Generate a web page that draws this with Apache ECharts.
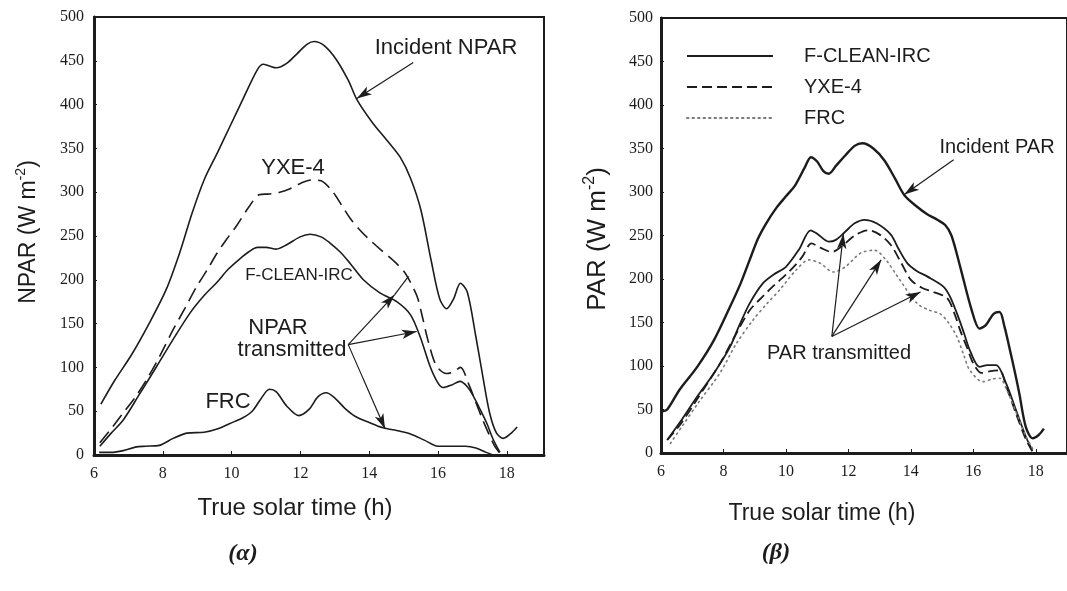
<!DOCTYPE html>
<html>
<head>
<meta charset="utf-8">
<script src="https://cdn.jsdelivr.net/npm/echarts@6/dist/echarts.min.js"></script>
<style>
  html, body { margin: 0; padding: 0; background: #fff; }
  #chart { width: 1067px; height: 591px; }
</style>
</head>
<body>
<div id="chart"></div>
<script>
// ---- Panel (α): NPAR, W m-2, against true solar time (h) ----
const npIncident = [[6.2,58],[6.6,85],[7.1,115],[7.6,150],[8.1,189],[8.5,232],[8.85,276],[9.2,314],[9.6,346],[9.95,375],[10.35,408],[10.75,440],[10.92,446],[11.1,444],[11.3,442],[11.6,447],[11.9,458],[12.2,469],[12.4,472],[12.7,467],[13.05,451],[13.4,427],[13.65,405],[14.1,379],[14.5,360],[14.9,340],[15.2,316],[15.5,280],[15.8,222],[16.05,178],[16.25,167],[16.45,178],[16.65,196],[16.85,186],[17.1,135],[17.3,90],[17.5,48],[17.7,25],[17.9,19],[18.1,24],[18.3,32]];
const npYXE = [[6.17,14],[6.5,30],[6.85,48],[7.2,66],[7.53,86],[7.9,112],[8.3,143],[8.65,168],[8.98,192],[9.3,212],[9.57,230],[9.85,246],[10.15,262],[10.5,283],[10.8,297],[11.1,298],[11.4,300],[11.7,304],[12.0,310],[12.3,314],[12.6,313],[12.95,300],[13.2,285],[13.45,270],[13.7,258],[13.95,248],[14.4,232],[14.7,222],[15.0,210],[15.2,197],[15.4,180],[15.55,157],[15.7,132],[15.95,102],[16.25,93],[16.45,95],[16.65,100],[16.9,80],[17.1,60],[17.3,40],[17.5,22],[17.65,10],[17.8,2]];
const npFClean = [[6.17,10],[6.5,25],[6.85,40],[7.3,68],[7.82,101],[8.3,132],[8.79,162],[9.2,182],[9.57,197],[9.9,212],[10.24,224],[10.5,232],[10.75,237],[11.0,237],[11.3,235],[11.6,240],[11.99,249],[12.28,252],[12.6,249],[12.86,242],[13.15,232],[13.44,219],[13.83,200],[14.31,185],[14.8,175],[15.2,160],[15.48,135],[15.77,101],[16.0,82],[16.15,77],[16.4,80],[16.64,84],[16.85,78],[17.03,67],[17.25,50],[17.42,36],[17.6,18],[17.8,3]];
const npFRC = [[6.15,3],[6.5,3],[6.85,5],[7.2,9],[7.5,10],[7.9,11],[8.3,19],[8.7,25],[9.2,26],[9.6,30],[9.95,36],[10.3,42],[10.6,50],[10.85,64],[11.1,75],[11.3,72],[11.6,56],[11.95,45],[12.25,52],[12.5,66],[12.75,71],[13.0,65],[13.3,53],[13.6,44],[14.0,37],[14.4,31],[14.8,28],[15.2,24],[15.6,17],[16.0,10],[16.4,10],[16.8,10],[17.1,8],[17.4,3],[17.6,0]];

// ---- Panel (β): PAR, W m-2, against true solar time (h) ----
const parIncident = [[6.05,48],[6.2,50],[6.6,73],[7.16,99],[7.7,130],[8.21,168],[8.55,195],[8.84,222],[9.1,246],[9.37,264],[9.7,282],[10.0,295],[10.3,308],[10.6,328],[10.8,340],[11.0,335],[11.2,324],[11.37,321],[11.6,330],[11.9,342],[12.2,353],[12.45,356],[12.8,350],[13.16,336],[13.5,315],[13.8,296],[14.2,283],[14.5,275],[14.85,268],[15.1,262],[15.3,250],[15.58,214],[15.95,164],[16.2,143],[16.4,147],[16.65,160],[16.84,162],[17.0,145],[17.15,122],[17.3,98],[17.47,69],[17.68,30],[17.9,17],[18.1,21],[18.26,28]];
const parFClean = [[6.2,15],[6.6,35],[7.16,65],[7.7,92],[8.21,122],[8.5,146],[8.84,172],[9.26,195],[9.6,205],[10.0,214],[10.42,234],[10.79,256],[11.0,252],[11.37,243],[11.6,245],[11.89,254],[12.2,264],[12.52,268],[12.9,264],[13.36,251],[13.6,235],[13.89,218],[14.2,209],[14.52,203],[15.05,191],[15.25,180],[15.47,161],[15.7,138],[15.89,118],[16.2,99],[16.45,101],[16.73,101],[17.05,80],[17.37,49],[17.68,19],[17.89,3]];
const parYXE = [[6.2,15],[6.6,32],[7.16,62],[7.89,103],[8.3,130],[8.84,164],[9.26,180],[9.6,192],[10.0,205],[10.3,216],[10.53,226],[10.82,241],[11.1,236],[11.47,231],[11.8,238],[12.2,250],[12.63,256],[13.0,251],[13.36,239],[13.7,218],[14.0,199],[14.35,190],[14.73,185],[15.16,178],[15.4,160],[15.58,141],[15.8,121],[16.0,103],[16.26,92],[16.55,94],[16.84,95],[17.05,77],[17.37,45],[17.68,16],[17.89,2]];
const parFRC = [[6.3,11],[6.7,32],[7.2,58],[7.89,92],[8.4,125],[8.95,153],[9.4,172],[9.79,187],[10.32,210],[10.74,222],[11.1,218],[11.52,208],[11.9,214],[12.4,230],[12.84,233],[13.2,222],[13.57,203],[14.2,172],[14.6,164],[14.94,160],[15.2,150],[15.47,134],[15.7,112],[15.89,95],[16.31,82],[16.6,85],[16.84,86],[17.1,70],[17.47,38],[17.7,18],[17.95,2]];

// Axis ticks
const timeTicks = [6, 8, 10, 12, 14, 16, 18];
const fluxTicks = [0, 50, 100, 150, 200, 250, 300, 350, 400, 450, 500];

// Annotation arrows, in (hour, W m-2)
const npArrows = [
  [[15.28, 448], [13.64, 407]],
  [[13.39, 126], [14.74, 183]],
  [[13.39, 126], [15.38, 141]],
  [[13.39, 126], [14.46, 30]]
];
const npArrowTail = [[[14.74, 183], [15.14, 204]]];
const parArrows = [
  [[15.37, 337], [13.79, 297]],
  [[11.47, 134], [11.84, 252]],
  [[11.47, 134], [13.05, 222]],
  [[11.47, 134], [14.31, 185]]
];

const INK = '#1c1c1c';
const SANS = '"Liberation Sans", Arial, sans-serif';
const SERIF = '"Liberation Serif", "Times New Roman", serif';

function timeAxis(gridIndex, max) {
  return {
    type: 'value', gridIndex, min: 6, max, interval: 2,
    axisLine: { show: true, onZero: false, lineStyle: { color: INK, width: 3 } },
    axisTick: { show: true, inside: true, length: 4, lineStyle: { color: INK, width: 1 },
      customValues: timeTicks },
    axisLabel: { show: true, margin: 11, color: INK, fontFamily: SERIF, fontSize: 16,
      customValues: timeTicks,
      formatter: v => (timeTicks.indexOf(v) >= 0 ? String(v) : '') },
    splitLine: { show: false }
  };
}
function fluxAxis(gridIndex, margin) {
  return {
    type: 'value', gridIndex, min: 0, max: 500, interval: 50,
    axisLine: { show: true, onZero: false, lineStyle: { color: INK, width: 3 } },
    axisTick: { show: true, inside: true, length: 3, lineStyle: { color: INK, width: 1 } },
    axisLabel: { show: true, margin, color: INK, fontFamily: SERIF, fontSize: 16,
      formatter: v => (fluxTicks.indexOf(v) >= 0 ? String(v) : '') },
    splitLine: { show: false }
  };
}
function curve(name, data, axisIdx, lineStyle, extra) {
  return Object.assign({
    name, type: 'line', data, xAxisIndex: axisIdx, yAxisIndex: axisIdx,
    symbol: 'none', showSymbol: false, smooth: 0.3, silent: true,
    itemStyle: { color: INK },
    lineStyle: Object.assign({ color: INK, width: 1.6 }, lineStyle)
  }, extra || {});
}
function arrowLines(list, withHead) {
  return {
    silent: true, animation: false,
    symbol: withHead ? ['none', 'arrow'] : ['none', 'none'],
    symbolSize: [7, 15],
    lineStyle: { color: INK, width: 1.2, type: 'solid' },
    itemStyle: { color: INK },
    label: { show: false },
    emphasis: { disabled: true },
    data: list.map(seg => [{ coord: seg[0] }, { coord: seg[1] }])
  };
}
function txt(text, x, y, size, opts) {
  return Object.assign({
    type: 'text', x, y, silent: true,
    style: Object.assign({ text, fill: INK, font: size + 'px ' + SANS,
      align: 'center', verticalAlign: 'middle' }, (opts && opts.style) || {})
  }, (opts && opts.el) || {});
}
function fluxTitle(label, x, y, size) {
  return {
    type: 'text', x, y, rotation: Math.PI / 2, silent: true,
    style: {
      text: '{n|' + label + ' (W m}{s|-2}{n|)}',
      align: 'center', verticalAlign: 'middle', fill: INK,
      rich: {
        n: { fontSize: size, fontFamily: SANS, fill: INK, lineHeight: size + 6 },
        s: { fontSize: Math.round(size * 0.6), fontFamily: SANS, fill: INK,
             verticalAlign: 'top', lineHeight: Math.round(size * 0.6) + 2 }
      }
    }
  };
}

const chart = echarts.init(document.getElementById('chart'), null, { renderer: 'canvas' });

const option = {
  animation: false,
  backgroundColor: '#ffffff',
  grid: [
    { left: 94, top: 17, width: 450, height: 438, show: true, borderColor: INK, borderWidth: 2 },
    { left: 661, top: 18, width: 412, height: 435, show: true, borderColor: INK, borderWidth: 2 }
  ],
  xAxis: [timeAxis(0, 19.08), timeAxis(1, 19)],
  yAxis: [fluxAxis(0, 10), fluxAxis(1, 8)],
  legend: {
    data: ['F-CLEAN-IRC', 'YXE-4', 'FRC'],
    orient: 'vertical', left: 681, top: 41,
    itemWidth: 86, itemHeight: 14, itemGap: 11,
    selectedMode: false,
    itemStyle: { color: 'transparent', borderColor: 'transparent', borderWidth: 0, opacity: 0 },
    textStyle: { color: INK, fontFamily: SANS, fontSize: 20, padding: [0, 0, 0, 26] }
  },
  series: [
    curve('Incident NPAR', npIncident, 0, {}, { markLine: arrowLines(npArrows, true) }),
    curve('NPAR YXE-4', npYXE, 0, { type: [14, 7] }, { markLine: arrowLines(npArrowTail, false) }),
    curve('NPAR F-CLEAN-IRC', npFClean, 0, {}),
    curve('NPAR FRC', npFRC, 0, {}),
    curve('Incident PAR', parIncident, 1, { width: 2.4 }, { markLine: arrowLines(parArrows, true) }),
    curve('F-CLEAN-IRC', parFClean, 1, { width: 1.8 }),
    curve('YXE-4', parYXE, 1, { width: 1.8, type: [10, 5] }),
    curve('FRC', parFRC, 1, { width: 1.6, color: '#7a7a7a', type: [1.5, 4], cap: 'round' })
  ],
  graphic: [
    // panel (α) annotations
    txt('Incident NPAR', 446, 48, 22),
    txt('YXE-4', 293, 168, 22),
    txt('F-CLEAN-IRC', 299, 275, 17),
    txt('NPAR', 278, 328, 22),
    txt('transmitted', 292, 350, 22),
    txt('FRC', 228, 402, 22),
    // panel (β) annotations
    txt('Incident PAR', 997, 147, 20),
    txt('PAR transmitted', 839, 353, 20),
    // axis titles
    fluxTitle('NPAR', 29, 232, 23),
    fluxTitle('PAR', 598, 239, 26),
    txt('True solar time (h)', 295, 508, 24),
    txt('True solar time (h)', 822, 514, 23),
    // panel captions
    txt('(α)', 243, 554, 24, { style: { font: 'italic bold 24px ' + SERIF } }),
    txt('(β)', 776, 553, 24, { style: { font: 'italic bold 24px ' + SERIF } })
  ]
};

chart.setOption(option);
</script>
</body>
</html>
